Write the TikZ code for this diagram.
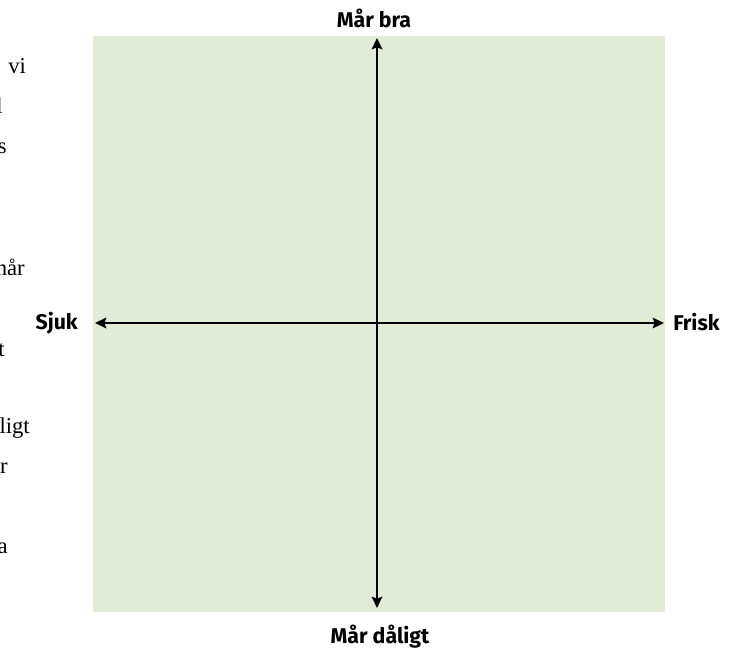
\documentclass[tikz,border=0pt]{standalone}
\usepackage{fontspec}
\setmainfont{Liberation Serif}
\newfontfamily\labelfont{Fira Sans}
\usetikzlibrary{arrows.meta}
\definecolor{panelgreen}{RGB}{226,235,214}

\begin{document}
\begin{tikzpicture}[
    x=0.75pt,
    y=-0.75pt,
    axis/.style={
        draw=black,
        line width=1.3pt,
        {Stealth[length=8.5pt,width=8pt,inset=1.5pt]}-{Stealth[length=8.5pt,width=8pt,inset=1.5pt]}
    },
    pole/.style={
        font=\labelfont\bfseries\fontsize{16}{19}\selectfont,
        inner sep=0pt
    },
    prose/.style={
        font=\fontsize{17}{20}\selectfont,
        inner sep=0pt
    }
]

    % ==========================================
    % CANVAS AND PANEL
    % ==========================================

    \useasboundingbox (0,0) rectangle (748,650);
    \fill[panelgreen] (93,36) rectangle (665,612);

    % Cut-off running text on the left margin
    \node[prose, anchor=base west] (TxtA) at (8,73) {vi};
    \node[prose, anchor=base east] (TxtB) at (3,113) {l};
    \node[prose, anchor=base east] (TxtC) at (7,153) {s};
    \node[prose, anchor=base east] (TxtD) at (25,275) {når};
    \node[prose, anchor=base east] (TxtE) at (5,356) {t};
    \node[prose, anchor=base east] (TxtF) at (30,433) {ligt};
    \node[prose, anchor=base east] (TxtG) at (8,473) {r};
    \node[prose, anchor=base east] (TxtH) at (8,553) {a};

    % ==========================================
    % AXES
    % ==========================================

    \coordinate (AxisTop) at (377,38);
    \coordinate (AxisBottom) at (377,608);
    \coordinate (AxisLeft) at (95,323);
    \coordinate (AxisRight) at (664,323);

    \draw[axis] (AxisBottom) -- (AxisTop);
    \draw[axis] (AxisLeft) -- (AxisRight);

    % Pole labels
    \node[pole, anchor=base] (MarBra) at (374,27) {Mår bra};
    \node[pole, anchor=base] (MarDaligt) at (380,643) {Mår dåligt};
    \node[pole, anchor=base east] (Sjuk) at (78,329) {Sjuk};
    \node[pole, anchor=base west] (Frisk) at (673,330) {Frisk};

\end{tikzpicture}
\end{document}
